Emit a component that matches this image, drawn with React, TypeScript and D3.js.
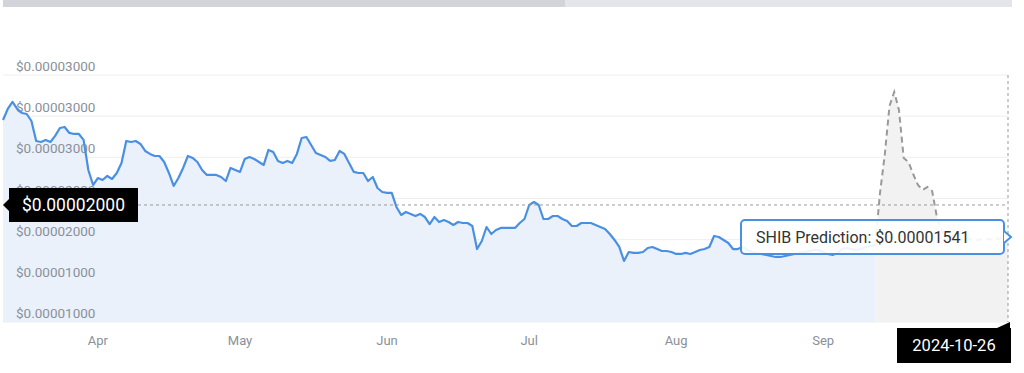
import * as d3 from "d3";

// SHIB daily price, in millionths of a dollar ($1e-6), starting 2024-03-12
const START = "2024-03-12";
const history = [
  29.63, 30.7, 31.38, 30.7, 30.31, 30.21, 29.53, 27.59, 27.49, 27.69,
  27.49, 28.08, 28.85, 28.95, 28.37, 28.27, 28.27, 27.69, 24.77, 23.31,
  23.99, 23.8, 24.19, 23.9, 24.48, 25.45, 27.59, 27.49, 27.59, 27.3,
  26.62, 26.33, 26.13, 26.13, 25.55, 24.48, 23.22, 23.99, 24.97, 26.13,
  25.94, 25.55, 24.77, 24.29, 24.29, 24.29, 24.09, 23.7, 24.97, 24.77,
  24.58, 25.84, 26.03, 25.84, 25.55, 25.26, 26.72, 26.52, 25.65, 25.45,
  25.65, 25.45, 26.33, 27.88, 27.98, 27.2, 26.42, 26.23, 26.03, 25.65,
  25.74, 26.62, 26.33, 25.45, 24.58, 24.48, 24.48, 23.7, 24.09, 23.02,
  22.63, 22.54, 22.54, 21.18, 20.4, 20.69, 20.5, 20.3, 20.5, 20.2,
  19.52, 20.2, 19.72, 19.91, 19.72, 19.43, 19.72, 19.62, 19.62, 19.33,
  17.09, 17.87, 19.23, 18.55, 18.94, 19.14, 19.14, 19.14, 19.14, 19.62,
  20.01, 21.37, 21.66, 21.37, 20.01, 20.01, 20.3, 20.3, 20.01, 19.82,
  19.33, 19.33, 19.62, 19.62, 19.62, 19.43, 19.23, 19.04, 18.55, 17.97,
  17.29, 15.93, 16.8, 16.71, 16.71, 16.8, 17.19, 17.29, 17.09, 16.9,
  16.9, 16.8, 16.61, 16.61, 16.71, 16.61, 16.8, 17.0, 17.09, 17.29,
  18.36, 18.26, 17.97, 17.68, 17.09, 17.09, 17.29, 17.0, 16.8, 16.71,
  16.61, 16.51, 16.41, 16.32, 16.32, 16.41, 16.51, 16.61, 16.71, 16.8,
  16.9, 17.0, 17.0, 16.8, 16.61, 16.51, 16.71, 17.09, 17.19, 17.09,
  17.0, 17.09, 17.29, 17.39, 17.48,
];

// forecast continues from the last history day
const prediction = [
  17.48, 22.54, 26.23, 30.99, 32.35, 30.6, 25.94, 25.55, 24.38, 23.31,
  22.83, 23.12, 22.73, 20.2, 18.94, 18.36, 18.2, 18.1, 18.0, 18.15,
  18.05, 17.95, 18.0, 18.1, 18.05, 18.0, 18.1, 18.2, 18.26,
];

const yTicks = [10, 14, 18, 22, 26, 30, 34];
const yTickLabels = [
  "$0.00001000", "$0.00001000", "$0.00002000", "$0.00002000",
  "$0.00003000", "$0.00003000", "$0.00003000",
];
const monthTicks = ["2024-04-01", "2024-05-01", "2024-06-01", "2024-07-01", "2024-08-01", "2024-09-01"];
const monthLabels = ["Apr", "May", "Jun", "Jul", "Aug", "Sep"];

const crosshairValue = 21.37;
const crosshairPrice = "$0.00002000";
const crosshairDate = "2024-10-26";
const predictionLabel = "SHIB Prediction: $0.00001541";

const W = 1024;
const H = 373;
const FONT = "Roboto, 'Noto Sans', sans-serif";

export default function App() {
  const parse = d3.utcParse("%Y-%m-%d");
  const start = parse(START) as Date;
  const histPts = history.map((v, i) => ({ date: d3.utcDay.offset(start, i), v }));
  const predStart = histPts[histPts.length - 1].date;
  const predPts = prediction.map((v, i) => ({ date: d3.utcDay.offset(predStart, i), v }));

  const x = d3
    .scaleUtc()
    .domain([start, predPts[predPts.length - 1].date])
    .range([3, 1008]);
  const y = d3.scaleLinear().domain([10, 34]).range([322, 75]);

  const line = d3
    .line<{ date: Date; v: number }>()
    .x((d) => x(d.date))
    .y((d) => y(d.v));
  const area = d3
    .area<{ date: Date; v: number }>()
    .x((d) => x(d.date))
    .y0(y(10))
    .y1((d) => y(d.v));

  const right = x(predPts[predPts.length - 1].date);
  const cy = y(crosshairValue);

  return (
    <svg
      width={W}
      height={H}
      style={{ position: "absolute", left: 0, top: 0, background: "#fff" }}
      fontFamily={FONT}
    >
      <rect x={3} y={0} width={562} height={7} fill="#d2d4d9" />
      <rect x={565} y={0} width={447} height={7} fill="#e4e5ea" />

      {yTicks.map((t) => (
        <line key={t} x1={3} x2={right} y1={y(t)} y2={y(t)} stroke="#eeeeee" />
      ))}

      <path d={area(histPts) ?? ""} fill="#eaf1fb" />
      <path d={area(predPts) ?? ""} fill="#f2f2f2" />

      {yTicks.map((t, i) => (
        <text key={t} x={16} y={y(t) - 4} fontSize={13.5} fill="#8a9099">
          {yTickLabels[i]}
        </text>
      ))}

      <path
        d={line(histPts) ?? ""}
        fill="none"
        stroke="#4a90e2"
        strokeWidth={2.2}
        strokeLinejoin="round"
      />
      <path
        d={line(predPts) ?? ""}
        fill="none"
        stroke="#9a9a9a"
        strokeWidth={2}
        strokeDasharray="6,4"
      />

      <line x1={138} x2={right} y1={cy} y2={cy} stroke="#999" strokeDasharray="3,3" />
      <line x1={right} x2={right} y1={y(34)} y2={y(10)} stroke="#999" strokeDasharray="3,3" />

      {monthTicks.map((m, i) => (
        <text
          key={m}
          x={x(parse(m) as Date)}
          y={345}
          fontSize={13}
          fill="#8a9099"
          textAnchor="middle"
        >
          {monthLabels[i]}
        </text>
      ))}

      {/* price badge on the left */}
      <path d={`M3,${cy} L9,${cy - 6} L9,${cy + 6} Z`} fill="#000" />
      <rect x={9} y={cy - 17} width={129} height={34} fill="#000" />
      <text x={22} y={cy + 6.5} fontSize={17.5} fill="#fff">
        {crosshairPrice}
      </text>

      {/* prediction tooltip */}
      <g>
        <rect
          x={741}
          y={220}
          width={263}
          height={34}
          rx={4}
          fill="#fff"
          fillOpacity={0.9}
          stroke="#4a90e2"
          strokeWidth={2}
        />
        <path d="M1004,231 L1011,237 L1004,243" fill="#fff" stroke="#4a90e2" strokeWidth={2} />
        <text x={756} y={243} fontSize={16} fill="#333">
          {predictionLabel}
        </text>
      </g>

      {/* date badge */}
      <path d={`M997,328 L${right + 2},322 L${right + 2},328 Z`} fill="#000" />
      <rect x={897} y={328} width={114} height={35} fill="#000" />
      <text x={954} y={351} fontSize={16.5} fill="#fff" textAnchor="middle">
        {crosshairDate}
      </text>
    </svg>
  );
}
